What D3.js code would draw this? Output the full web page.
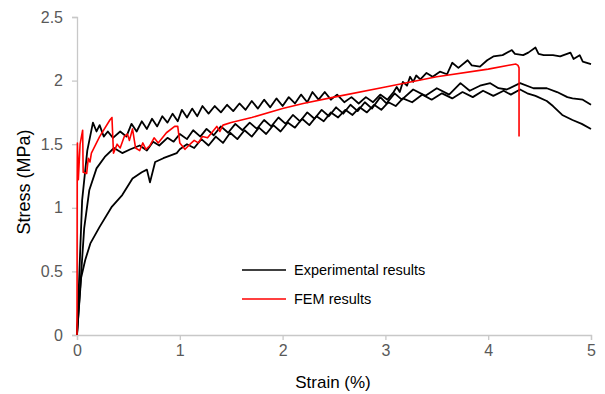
<!DOCTYPE html>
<html>
<head>
<meta charset="utf-8">
<script src="https://cdn.jsdelivr.net/npm/d3@7"></script>
<style>
  body { margin: 0; background: #fff; }
  text { font-family: "Liberation Sans", Arial, sans-serif; }
</style>
</head>
<body>
<script>
// strain (%), stress (MPa)
const expA = [
  [0, 0], [0.05, 1.06], [0.10, 1.45], [0.155, 1.67], [0.19, 1.60], [0.22, 1.65], [0.26, 1.56],
  [0.30, 1.60], [0.35, 1.55], [0.42, 1.60], [0.48, 1.56], [0.53, 1.66], [0.58, 1.60], [0.63, 1.68],
  [0.68, 1.62], [0.73, 1.70], [0.78, 1.64], [0.83, 1.72], [0.88, 1.67], [0.93, 1.74], [0.98, 1.68],
  [1.02, 1.77], [1.07, 1.71], [1.12, 1.78], [1.17, 1.72], [1.22, 1.80], [1.28, 1.74], [1.34, 1.80],
  [1.40, 1.75], [1.46, 1.81], [1.52, 1.76], [1.58, 1.82], [1.64, 1.77], [1.70, 1.84], [1.76, 1.78],
  [1.82, 1.85], [1.88, 1.79], [1.94, 1.86], [2.00, 1.80], [2.06, 1.87], [2.12, 1.82], [2.18, 1.89],
  [2.24, 1.83], [2.29, 1.91], [2.35, 1.85], [2.41, 1.91], [2.47, 1.85], [2.53, 1.89], [2.60, 1.83],
  [2.67, 1.87], [2.74, 1.82], [2.81, 1.87], [2.88, 1.83], [2.95, 1.89], [3.02, 1.85], [3.08, 1.91],
  [3.11, 1.95], [3.14, 1.91], [3.17, 1.99], [3.21, 1.96], [3.24, 2.03], [3.27, 1.99], [3.30, 2.04],
  [3.34, 2.01], [3.40, 2.06], [3.46, 2.03], [3.53, 2.07], [3.60, 2.05], [3.65, 2.14], [3.71, 2.10],
  [3.80, 2.16], [3.84, 2.12], [3.92, 2.11], [3.99, 2.16], [4.05, 2.19], [4.14, 2.20], [4.23, 2.24],
  [4.26, 2.21], [4.34, 2.20], [4.39, 2.22], [4.46, 2.26], [4.49, 2.21], [4.54, 2.20], [4.63, 2.20],
  [4.70, 2.19], [4.80, 2.22], [4.83, 2.17], [4.89, 2.20], [4.92, 2.15], [5.00, 2.13]
];

const expB = [
  [0, 0], [0.07, 0.84], [0.12, 1.14], [0.19, 1.31], [0.27, 1.40], [0.36, 1.47], [0.44, 1.43],
  [0.52, 1.46], [0.61, 1.49], [0.68, 1.45], [0.74, 1.52], [0.80, 1.49], [0.88, 1.55], [0.94, 1.52],
  [1.00, 1.58], [1.07, 1.54], [1.13, 1.61], [1.20, 1.56], [1.26, 1.62], [1.33, 1.57], [1.40, 1.64],
  [1.47, 1.59], [1.54, 1.66], [1.61, 1.61], [1.68, 1.67], [1.75, 1.62], [1.82, 1.69], [1.89, 1.64],
  [1.96, 1.71], [2.03, 1.66], [2.10, 1.73], [2.17, 1.68], [2.24, 1.75], [2.31, 1.70], [2.38, 1.77],
  [2.45, 1.72], [2.52, 1.79], [2.59, 1.74], [2.66, 1.81], [2.73, 1.76], [2.80, 1.83], [2.87, 1.78],
  [2.95, 1.87], [3.01, 1.82], [3.09, 1.90], [3.16, 1.85], [3.27, 1.93], [3.39, 1.88], [3.50, 1.94],
  [3.62, 1.89], [3.73, 1.98], [3.82, 1.92], [3.92, 1.96], [4.02, 1.98], [4.10, 1.94], [4.18, 1.93],
  [4.31, 1.98], [4.44, 1.94], [4.57, 1.94], [4.67, 1.91], [4.77, 1.87], [4.82, 1.86], [4.92, 1.85],
  [5.00, 1.81]
];

const expC = [
  [0, 0], [0.04, 0.45], [0.08, 0.59], [0.13, 0.72], [0.22, 0.85], [0.34, 1.01], [0.44, 1.10],
  [0.54, 1.23], [0.63, 1.28], [0.68, 1.30], [0.71, 1.20], [0.76, 1.36], [0.84, 1.39], [0.97, 1.43],
  [1.00, 1.46], [1.07, 1.50], [1.14, 1.47], [1.21, 1.54], [1.28, 1.49], [1.35, 1.56], [1.42, 1.51],
  [1.49, 1.59], [1.56, 1.54], [1.63, 1.61], [1.70, 1.56], [1.77, 1.63], [1.84, 1.58], [1.91, 1.65],
  [1.98, 1.60], [2.05, 1.67], [2.12, 1.63], [2.19, 1.70], [2.26, 1.65], [2.33, 1.72], [2.40, 1.68],
  [2.47, 1.75], [2.54, 1.71], [2.61, 1.77], [2.68, 1.73], [2.75, 1.79], [2.82, 1.75], [2.89, 1.81],
  [2.96, 1.77], [3.03, 1.83], [3.10, 1.80], [3.17, 1.86], [3.26, 1.83], [3.36, 1.89], [3.45, 1.85],
  [3.55, 1.90], [3.65, 1.86], [3.75, 1.91], [3.85, 1.87], [3.95, 1.92], [4.05, 1.88], [4.15, 1.92],
  [4.22, 1.89], [4.31, 1.93], [4.38, 1.90], [4.46, 1.88], [4.57, 1.84], [4.63, 1.80], [4.72, 1.73],
  [4.82, 1.69], [4.91, 1.66], [5.00, 1.62]
];

const fem = [
  [0, 0], [0.002, 1.20], [0.004, 1.51], [0.013, 1.22], [0.03, 1.50], [0.055, 1.61], [0.06, 1.28],
  [0.094, 1.27], [0.11, 1.39], [0.126, 1.36], [0.14, 1.43], [0.22, 1.56], [0.32, 1.69], [0.34, 1.71],
  [0.355, 1.43], [0.39, 1.50], [0.42, 1.47], [0.46, 1.56], [0.49, 1.58], [0.51, 1.53], [0.54, 1.62],
  [0.57, 1.47], [0.61, 1.45], [0.64, 1.51], [0.67, 1.46], [0.71, 1.49], [0.75, 1.55], [0.79, 1.51],
  [0.87, 1.59], [0.95, 1.64], [0.98, 1.64], [1.00, 1.51], [1.05, 1.46], [1.10, 1.50], [1.14, 1.53],
  [1.18, 1.51], [1.22, 1.56], [1.27, 1.55], [1.32, 1.60], [1.36, 1.64], [1.39, 1.60], [1.42, 1.65],
  [1.50, 1.67], [1.70, 1.71], [2.00, 1.78], [2.20, 1.82], [2.50, 1.87], [3.00, 1.95], [3.50, 2.03],
  [4.00, 2.09], [4.20, 2.12], [4.27, 2.13], [4.29, 2.12], [4.30, 2.10], [4.30, 1.56]
];

const xTicks = [0, 1, 2, 3, 4, 5];
const yTicks = [0, 0.5, 1, 1.5, 2, 2.5];

const width = 605;
const height = 394;
const margin = { top: 17, right: 14, bottom: 59, left: 77 };

const svg = d3.select('body')
  .append('svg')
  .attr('width', width)
  .attr('height', height);

const x = d3.scaleLinear().domain([0, 5]).range([margin.left, width - margin.right]);
const y = d3.scaleLinear().domain([0, 2.5]).range([height - margin.bottom, margin.top]);

// axes
const xAxis = svg.append('g')
  .attr('transform', `translate(0, ${y(0)})`)
  .call(d3.axisBottom(x).tickValues(xTicks).tickSize(5).tickPadding(5).tickFormat(d3.format('d')));
const yAxis = svg.append('g')
  .attr('transform', `translate(${x(0)}, 0)`)
  .call(d3.axisLeft(y).tickValues(yTicks).tickSize(5).tickPadding(9).tickFormat((d) => String(d)));

[xAxis, yAxis].forEach((ax) => {
  ax.select('.domain').attr('stroke', '#c8c8c8').attr('stroke-width', 1.3);
  ax.selectAll('.tick line').attr('stroke', '#c8c8c8').attr('stroke-width', 1.3);
  ax.selectAll('.tick text')
    .attr('fill', '#595959')
    .style('font-size', '16px')
    .style('font-family', '"Liberation Sans", Arial, sans-serif');
});

const line = d3.line().x((d) => x(d[0])).y((d) => y(d[1]));

[expC, expB, expA].forEach((s) => {
  svg.append('path')
    .datum(s)
    .attr('d', line)
    .attr('fill', 'none')
    .attr('stroke', '#000')
    .attr('stroke-width', 1.8)
    .attr('stroke-linejoin', 'round');
});

svg.append('path')
  .datum(fem)
  .attr('d', line)
  .attr('fill', 'none')
  .attr('stroke', '#ff0000')
  .attr('stroke-width', 1.6)
  .attr('stroke-linejoin', 'round');

// axis titles
svg.append('text')
  .attr('x', x(2.5) - 1)
  .attr('y', 388)
  .attr('text-anchor', 'middle')
  .attr('fill', '#000')
  .style('font-size', '17px')
  .text('Strain (%)');

svg.append('text')
  .attr('transform', `translate(30, ${y(1.25) + 6}) rotate(-90)`)
  .attr('text-anchor', 'middle')
  .attr('fill', '#000')
  .style('font-size', '18px')
  .text('Stress (MPa)');

// legend
const legend = [
  { label: 'Experimental results', color: '#000', yy: 270 },
  { label: 'FEM results', color: '#ff0000', yy: 299 },
];
const lg = svg.append('g');
legend.forEach((d) => {
  lg.append('line')
    .attr('x1', 242).attr('x2', 286)
    .attr('y1', d.yy).attr('y2', d.yy)
    .attr('stroke', d.color)
    .attr('stroke-width', 1.6);
  lg.append('text')
    .attr('x', 294)
    .attr('y', d.yy + 5)
    .attr('fill', '#000')
    .style('font-size', '14.5px')
    .text(d.label);
});
</script>
</body>
</html>
